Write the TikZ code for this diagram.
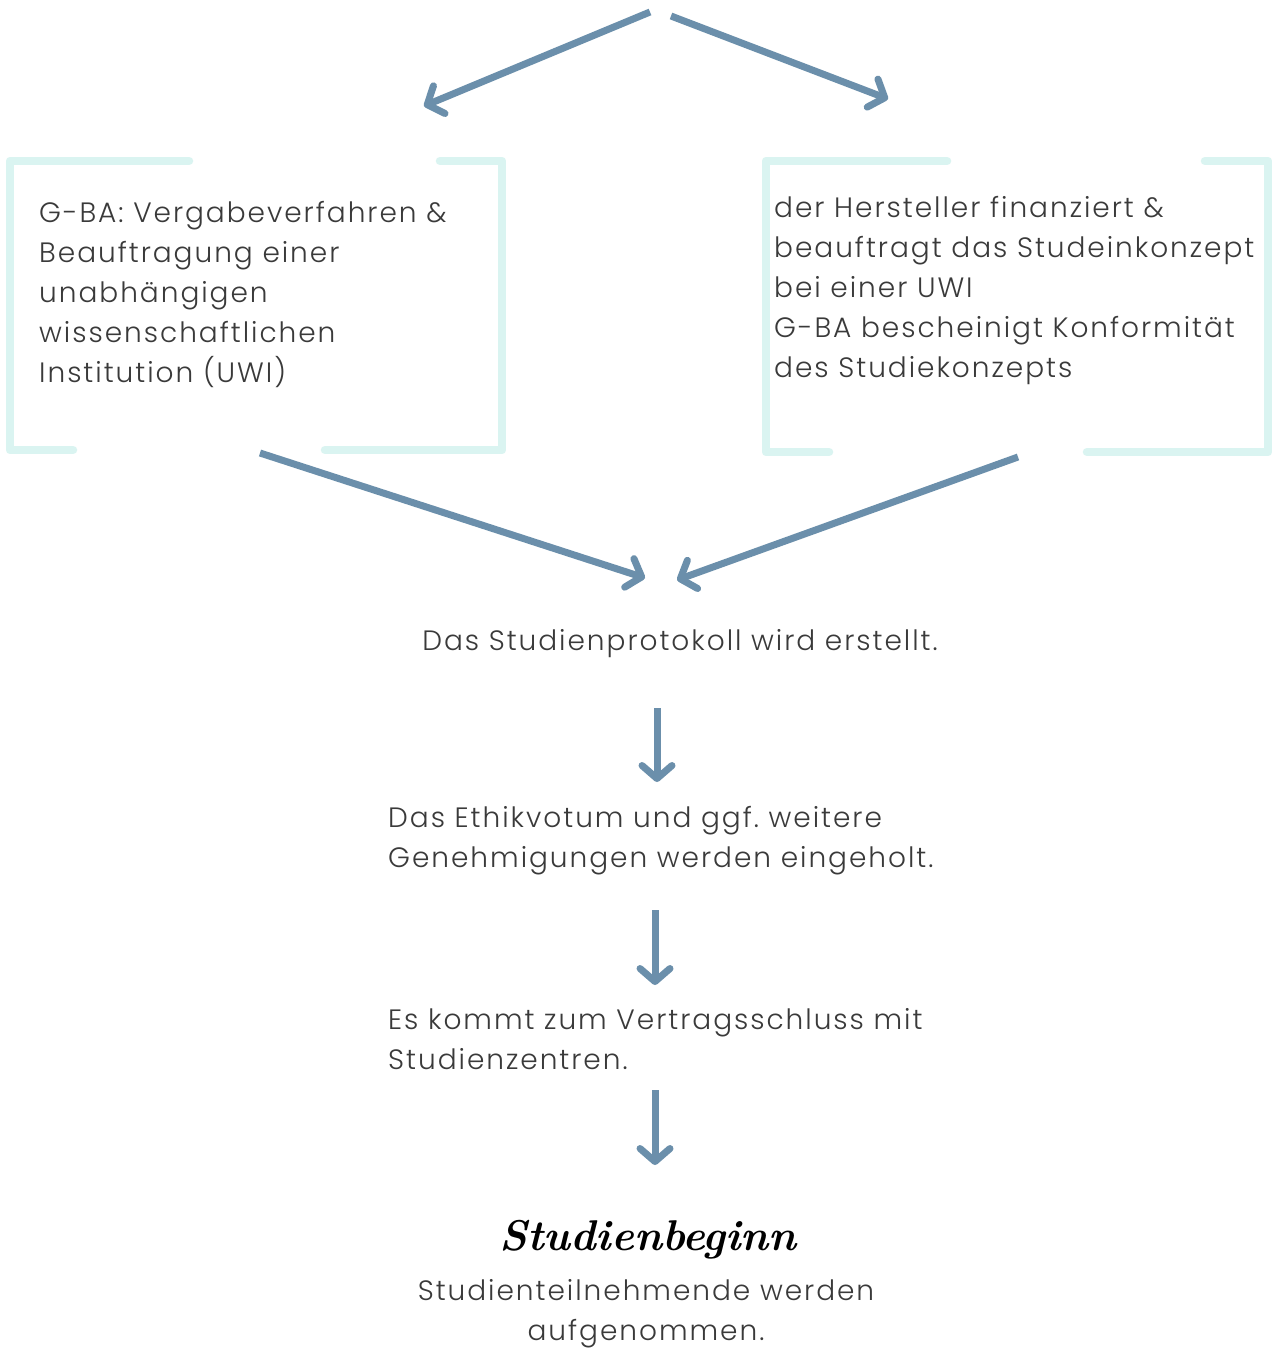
\documentclass[tikz,border=0pt]{standalone}
\usepackage{fontspec}
\newfontfamily\bodyfont{Poppins Light}[LetterSpace=7]
\usetikzlibrary{arrows.meta}
\definecolor{arrowblue}{HTML}{6B8FAB}
\definecolor{bracketcyan}{HTML}{DAF4F1}
\definecolor{txtgray}{HTML}{3A3A3A}
\frenchspacing
\begin{document}
\begin{tikzpicture}[x=1pt,y=-1pt,
  flowarrow/.style={draw=arrowblue,line width=7pt,
    -{Straight Barb[length=13pt,width=30pt,line cap=round,line join=round]}},
  bracketline/.style={draw=bracketcyan,line width=8.5pt,line cap=round,line join=round},
  bodytext/.style={text=txtgray,inner sep=0pt,font=\bodyfont\fontsize{28}{40}\selectfont\frenchspacing},
  titletext/.style={text=black,inner sep=0pt,font=\normalfont\fontsize{43}{50}\selectfont\bfseries\itshape}]
\useasboundingbox[fill=white] (0,0) rectangle (1275,1349);

% brackets left box
\draw[bracketline] (189,161) -- (10,161) -- (10,450) -- (73,450);
\draw[bracketline] (440,161) -- (502,161) -- (502,450) -- (325,450);
% brackets right box
\draw[bracketline] (947,161) -- (766,161) -- (766,452) -- (829,452);
\draw[bracketline] (1205,161) -- (1268,161) -- (1268,452) -- (1087,452);

% texts
\node[bodytext,anchor=north west,align=left] (gba) at (39,194)
  {\strut G-BA: Vergabeverfahren \&\\Beauftragung einer\\unabhängigen\\wissenschaftlichen\\Institution (UWI)};
\node[bodytext,anchor=north west,align=left] (hst) at (774,189)
  {\strut der Hersteller finanziert \&\\beauftragt das Studeinkonzept\\bei einer UWI\\G-BA bescheinigt Konformität\\des Studiekonzepts};
\node[bodytext,anchor=base] (prot) at (680,650) {Das Studienprotokoll wird erstellt.};
\node[bodytext,anchor=north west,align=left] (ethik) at (388,799)
  {\strut Das Ethikvotum und ggf.\ weitere\\Genehmigungen werden eingeholt.};
\node[bodytext,anchor=north west,align=left] (vert) at (388,1001)
  {\strut Es kommt zum Vertragsschluss mit\\Studienzentren.};
\node[titletext,anchor=base] (beg) at (648,1250) {Studienbeginn};
\node[bodytext,anchor=north,align=center] (teil) at (646,1272)
  {\strut Studienteilnehmende werden\\aufgenommen.};

% connector end points
\coordinate (top1) at (650,12);
\coordinate (top2) at (671,16);
\coordinate (gbain) at (424,106);
\coordinate (hstin) at (888,99);
\coordinate (gbaout) at (260,453);
\coordinate (hstout) at (1018,457);
\coordinate (protinL) at (645,578);
\coordinate (protinR) at (677,580);
\coordinate (a1s) at (657,708);
\coordinate (a1e) at (657,782);
\coordinate (a2s) at (655,910);
\coordinate (a2e) at (655,985);
\coordinate (a3s) at (655,1090);
\coordinate (a3e) at (655,1165);

\draw[flowarrow] (top1) -- (gbain);
\draw[flowarrow] (top2) -- (hstin);
\draw[flowarrow] (gbaout) -- (protinL);
\draw[flowarrow] (hstout) -- (protinR);
\draw[flowarrow] (a1s) -- (a1e);
\draw[flowarrow] (a2s) -- (a2e);
\draw[flowarrow] (a3s) -- (a3e);
\end{tikzpicture}
\end{document}
